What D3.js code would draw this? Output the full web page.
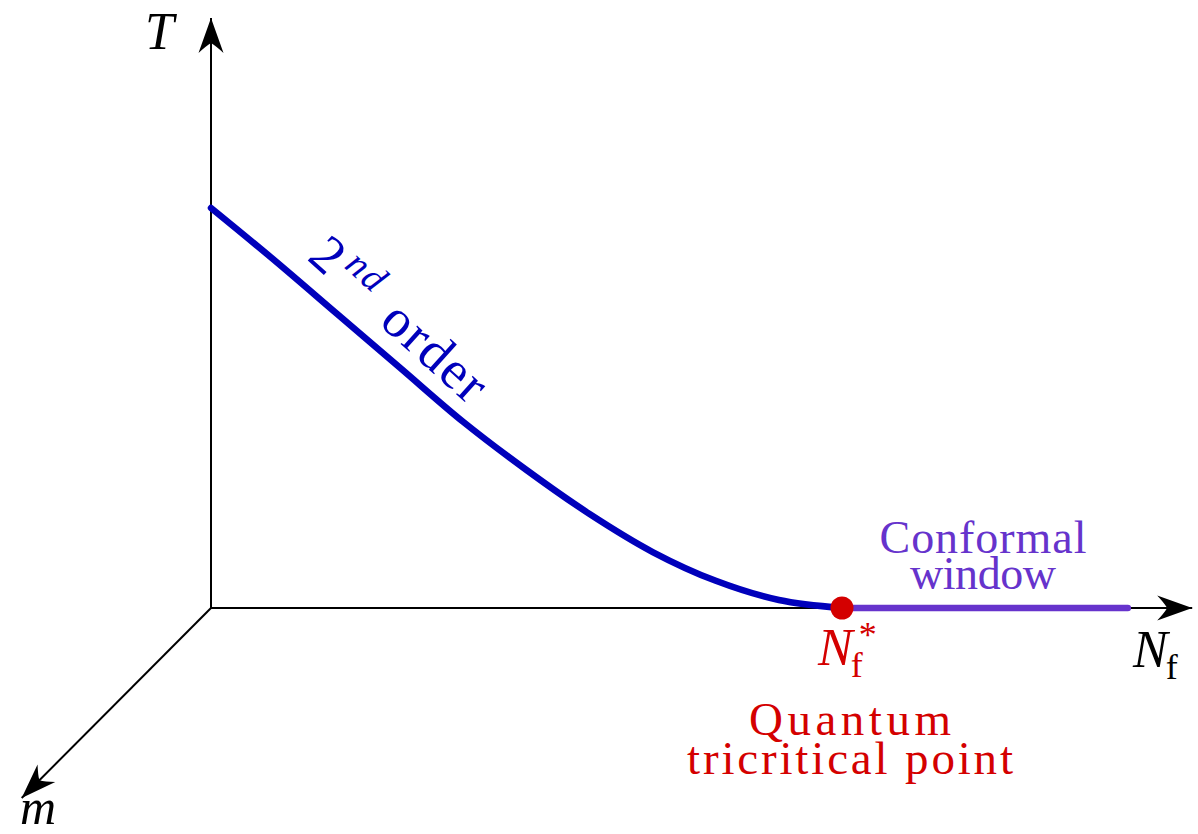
<!DOCTYPE html>
<html>
<head>
<meta charset="utf-8">
<script src="https://cdn.jsdelivr.net/npm/d3@7.9.0/dist/d3.min.js"></script>
<style>
  html, body { margin: 0; padding: 0; background: #fff; }
  svg { display: block; }
  text { font-family: "Liberation Serif", "DejaVu Serif", serif; }
</style>
</head>
<body>
<svg id="chart" width="1198" height="834"></svg>
<script>
// transition line (2nd order), in units where N_f* = 1 and T(0) = 1
const secondOrderNf = [0, 0.1, 0.2, 0.3, 0.4, 0.5, 0.6, 0.7, 0.8, 0.9, 1];
const secondOrderT  = [1, 0.87, 0.735, 0.6, 0.465, 0.345, 0.235, 0.14, 0.068, 0.02, 0];

// conformal window along the N_f axis
const windowNf = [1, 1.453];
const criticalNf = 1;

// axis ends (T up, N_f right, m drawn in oblique projection)
const axisNames = ['T', 'Nf', 'm'];
const axisEndNf = [0, 1.555, -0.3];
const axisEndT  = [1.475, 0, -0.475];

const windowLines = ['Conformal', 'window'];
const pointLines = ['Quantum', 'tricritical point'];

const blue = '#0000bb', purple = '#6633cc', red = '#d40000';

const svg = d3.select('#chart');
const x = d3.scaleLinear().domain([0, 1]).range([211, 842]);
const y = d3.scaleLinear().domain([0, 1]).range([608, 208]);

// arrow head like tikz stealth
svg.append('defs').append('marker')
  .attr('id', 'arrow')
  .attr('markerUnits', 'userSpaceOnUse')
  .attr('viewBox', '-36 -14 38 28')
  .attr('refX', 0).attr('refY', 0)
  .attr('markerWidth', 38).attr('markerHeight', 28)
  .attr('orient', 'auto')
  .append('path')
  .attr('d', 'M0,0 L-35,-12.5 Q-28,-5 -25,0 Q-28,5 -35,12.5 Z')
  .attr('fill', '#000');

axisNames.forEach((name, i) => {
  svg.append('line')
    .attr('x1', x(0)).attr('y1', y(0))
    .attr('x2', x(axisEndNf[i])).attr('y2', y(axisEndT[i]))
    .attr('stroke', '#000')
    .attr('stroke-width', 2)
    .attr('marker-end', 'url(#arrow)');
});

// conformal window
svg.append('line')
  .attr('x1', x(windowNf[0])).attr('y1', y(0))
  .attr('x2', x(windowNf[1])).attr('y2', y(0))
  .attr('stroke', purple)
  .attr('stroke-width', 6.5)
  .attr('stroke-linecap', 'round');

// 2nd order line
let points = secondOrderNf.map((n, i) => [n, secondOrderT[i]]);
let line = d3.line()
  .x((d) => x(d[0]))
  .y((d) => y(d[1]))
  .curve(d3.curveCatmullRom);

svg.append('path')
  .attr('d', line(points))
  .attr('fill', 'none')
  .attr('stroke', blue)
  .attr('stroke-width', 6.5)
  .attr('stroke-linecap', 'round');

// quantum tricritical point
svg.append('circle')
  .attr('cx', x(criticalNf)).attr('cy', y(0))
  .attr('r', 11.5)
  .attr('fill', red);

// axis labels
svg.append('text')
  .attr('x', 145).attr('y', 49)
  .attr('font-size', 52).attr('font-style', 'italic')
  .text('T');

svg.append('text')
  .attr('x', 20).attr('y', 824)
  .attr('font-size', 50).attr('font-style', 'italic')
  .text('m');

let nf = svg.append('text').attr('x', 1133).attr('y', 667).attr('font-size', 52);
nf.append('tspan').attr('font-style', 'italic').text('N');
nf.append('tspan').attr('font-size', 36).attr('dy', 12).attr('dx', -2).text('f');

let nfStar = svg.append('text').attr('x', 818).attr('y', 665).attr('font-size', 52).attr('fill', red);
nfStar.append('tspan').attr('font-style', 'italic').text('N');
nfStar.append('tspan').attr('font-size', 36).attr('dy', 12).attr('dx', -2).text('f');
nfStar.append('tspan').attr('font-size', 36).attr('dy', -30).attr('dx', -4).text('*');

// multi-line labels
svg.selectAll('text.point')
  .data(pointLines)
  .join('text')
  .attr('class', 'point')
  .attr('text-anchor', 'middle')
  .attr('font-size', 47).attr('fill', red)
  .attr('x', 850)
  .attr('y', (d, i) => 735 + i * 39)
  .attr('textLength', (d, i) => [202, 326][i])
  .attr('lengthAdjust', 'spacing')
  .text((d) => d);

svg.selectAll('text.window')
  .data(windowLines)
  .join('text')
  .attr('class', 'window')
  .attr('text-anchor', 'middle')
  .attr('font-size', 46).attr('fill', purple)
  .attr('x', 983)
  .attr('y', (d, i) => 553 + i * 36)
  .attr('textLength', (d, i) => [207, 146][i])
  .attr('lengthAdjust', 'spacing')
  .text((d) => d);

let order = svg.append('text')
  .attr('transform', 'translate(306,259) rotate(42)')
  .attr('font-size', 54).attr('fill', blue)
  .attr('letter-spacing', 2);
order.append('tspan').text('2');
order.append('tspan').attr('font-style', 'italic').attr('font-size', 38).attr('dy', -19).attr('dx', 4).text('nd');
order.append('tspan').attr('dy', 19).attr('dx', 22).text('order');
</script>
</body>
</html>
